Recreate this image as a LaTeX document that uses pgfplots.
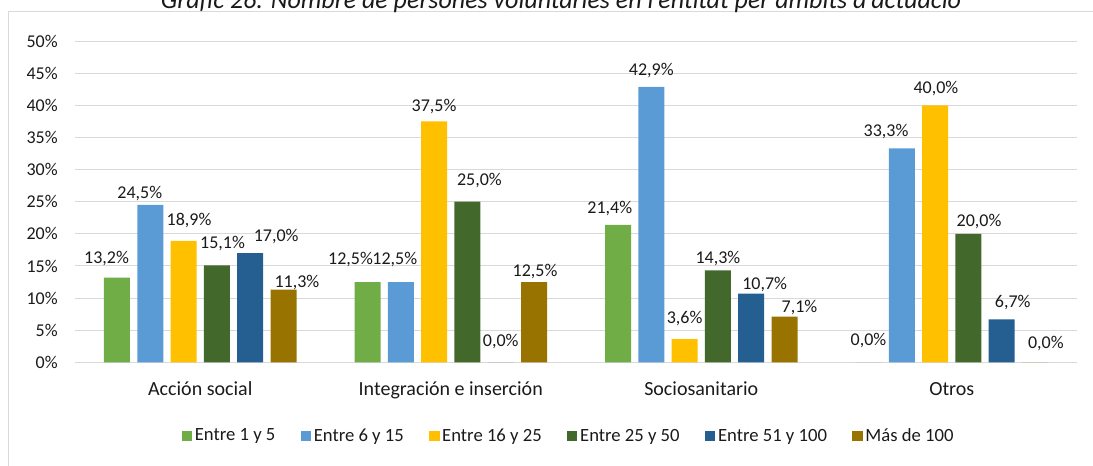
\documentclass[border=0pt]{standalone}
\usepackage{fontspec}
\setmainfont{Carlito}
\usepackage{pgfplots}
\pgfplotsset{compat=1.18}
\definecolor{c1}{HTML}{70AD47}
\definecolor{c2}{HTML}{5B9BD5}
\definecolor{c3}{HTML}{FFC000}
\definecolor{c4}{HTML}{43682B}
\definecolor{c5}{HTML}{255E91}
\definecolor{c6}{HTML}{997300}
\definecolor{gridgray}{HTML}{D9D9D9}
\definecolor{txt}{HTML}{1A1A1A}
\newcommand{\lf}{\fontsize{13.5}{16}\selectfont}
\newcommand{\gf}{\fontsize{14}{17}\selectfont}
\newcommand{\cf}{\fontsize{15}{18}\selectfont}
\pgfplotsset{
  sq/.style={legend image code/.code={\fill[##1] (0pt,-3.9pt) rectangle (7.8pt,3.9pt);}},
  lab/.style={
    visualization depends on={\thisrow{dx}\as\dx},
    visualization depends on={\thisrow{dy}\as\dy},
    nodes near coords={\pgfmathprintnumber[use comma,fixed,fixed zerofill,precision=1]{\pgfplotspointmeta}\%},
    nodes near coords style={font=\lf, text=txt, anchor=base, inner sep=0pt, xshift={\dx*0.75pt}, yshift={\dy*0.75pt}},
  },
}
\begin{document}
\begin{tikzpicture}
\useasboundingbox (0,0) rectangle (819.75pt,348.75pt);
\begin{scope}
\clip (0,0) rectangle (819.75pt,348.75pt);
\draw[gridgray, line width=0.75pt] (6pt,-20pt) -- (6pt,339.75pt) -- (900pt,339.75pt);
\node[anchor=base, font=\itshape\fontsize{19.5}{23}\selectfont, text=txt] at (420.75pt,342pt) {Gràfic 26. Nombre de persones voluntàries en l’entitat per àmbits d’actuació};
\begin{axis}[
  at={(56.25pt,77.03pt)}, anchor=south west,
  scale only axis, width=751.5pt, height=240.83pt,
  xmin=-0.5, xmax=3.5, ymin=0, ymax=50,
  ybar=5.475pt, bar width=19.5pt,
  axis line style={draw=none},
  major tick length=0pt,
  ymajorgrids, grid style={gridgray, line width=0.75pt},
  ytick={0,5,...,50},
  yticklabel={\pgfmathprintnumber{\tick}\%},
  /pgf/number format/assume math mode=true,
  yticklabel style={font=\lf, text=txt, anchor=east, inner sep=0pt, xshift=-12.75pt},
  xtick={0,1,2,3},
  xticklabels={Acción social, Integración e inserción, Sociosanitario, Otros},
  xticklabel style={font=\cf, text=txt, anchor=base, inner sep=0pt, yshift=-25pt},
  legend style={at={(0.493,-0.2295)}, anchor=center, legend columns=6, draw=none, fill=none, font=\gf, text=txt,
    /tikz/every even column/.append style={column sep=17pt}},
  clip=false,
]
\addplot[fill=c1, draw=none, sq, lab] table[x=x,y=y]{
x y dx dy
0 13.2 -10.5 14.2
1 12.5 -17 18
2 21.4 -8.2 11.6
3 0 0 16.3
};
\addplot[fill=c2, draw=none, sq, lab] table[x=x,y=y]{
x y dx dy
0 24.5 -10.5 6.7
1 12.5 -6 18
2 42.9 0 11.1
3 33.3 -15.7 11.7
};
\addplot[fill=c3, draw=none, sq, lab] table[x=x,y=y]{
x y dx dy
0 18.9 5.4 15.9
1 37.5 0 9.5
2 3.6 0 15.9
3 40.0 0.8 12.1
};
\addplot[fill=c4, draw=none, sq, lab] table[x=x,y=y]{
x y dx dy
0 15.1 5.7 17
1 25.0 12 15.8
2 14.3 0 6.5
3 20.0 10.6 7.2
};
\addplot[fill=c5, draw=none, sq, lab] table[x=x,y=y]{
x y dx dy
0 17.0 26 11.4
1 0 0 16
2 10.7 13.5 4.3
3 6.7 11 12
};
\addplot[fill=c6, draw=none, sq, lab] table[x=x,y=y]{
x y dx dy
0 11.3 13.4 2.7
1 12.5 1 6
2 7.1 15 4.4
3 0 10.8 14
};
\legend{Entre 1 y 5, Entre 6 y 15, Entre 16 y 25, Entre 25 y 50, Entre 51 y 100, Más de 100}
\end{axis}
\end{scope}
\end{tikzpicture}
\end{document}
